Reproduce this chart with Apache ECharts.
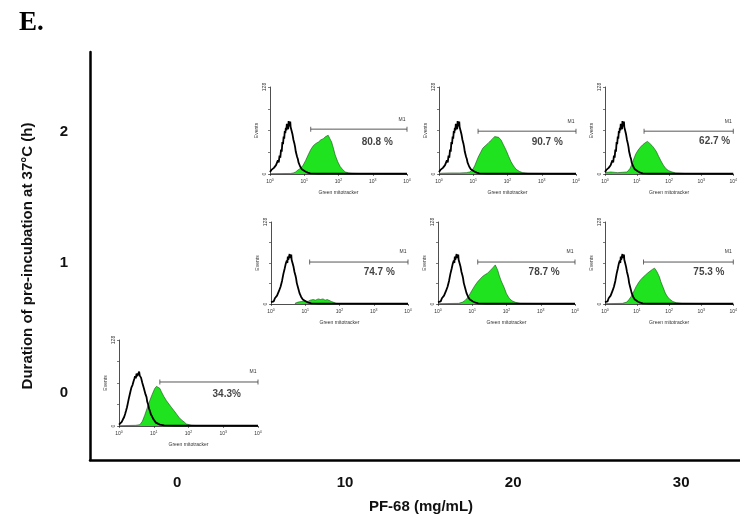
<!DOCTYPE html>
<html>
<head>
<meta charset="utf-8" />
<script src="https://cdn.jsdelivr.net/npm/echarts@6/dist/echarts.min.js"></script>
<title>pf68_facs</title>
<style>body{margin:0;background:#fff;}</style>
</head>
<body>
<div id="main" style="width:740px; height:521px;"></div>
<script type="text/javascript">
// main axes
const pf68Ticks = [0, 10, 20, 30];
const hourTicks = [0, 1, 2];

// panels, in order: (10,2) (20,2) (30,2) (10,1) (20,1) (30,1) (0,0)
const panelDose = [10, 20, 30, 10, 20, 30, 0];
const panelHours = [2, 2, 2, 1, 1, 1, 0];
const percentText = ['80.8 %', '90.7 %', '62.7 %', '74.7 %', '78.7 %', '75.3 %', '34.3%'];
const percentPos = [[1350, 47], [1445, 46], [2630, 47.5], [1445, 50], [1260, 50], [1740, 50], [1260, 47]];
const gateStart = [15.5, 13.8, 16.5, 13.5, 14.5, 16, 15];
const gateLevel = [66, 63, 63, 65.5, 65.5, 65.5, 65.5];

// unstained control histograms (fluorescence, events)
const controlRow = [[1, 3], [1.1, 6], [1.2, 4], [1.3, 9], [1.4, 7], [1.5, 13], [1.6, 11], [1.7, 20], [1.8, 17],
  [1.9, 27], [2, 24], [2.1, 36], [2.2, 33], [2.3, 47], [2.4, 44], [2.5, 55], [2.6, 52], [2.7, 63], [2.8, 60],
  [2.9, 68], [3, 64], [3.1, 74], [3.2, 69], [3.3, 71], [3.4, 66], [3.5, 78], [3.6, 72], [3.7, 75], [3.8, 70],
  [3.9, 77], [4, 69], [4.1, 71], [4.25, 64], [4.4, 66], [4.55, 58], [4.7, 57], [4.85, 50], [5, 48], [5.2, 44],
  [5.4, 40], [5.65, 33], [5.9, 31], [6.2, 25], [6.5, 22], [6.8, 17], [7.2, 15], [7.6, 11], [8, 10], [8.5, 7],
  [9, 6], [9.7, 5], [10.5, 4], [11.5, 2], [12.5, 2], [14, 1], [15, 1], [25, 0.6], [60, 0.5], [10000, 0.4]];
const controlZero = [[1, 2], [1.1, 4], [1.2, 6], [1.3, 10], [1.4, 13], [1.5, 18], [1.6, 23], [1.7, 28], [1.8, 34],
  [1.9, 40], [2, 45], [2.15, 52], [2.3, 58], [2.45, 61], [2.6, 66], [2.75, 70], [2.9, 74], [3.05, 71], [3.2, 78],
  [3.35, 74], [3.5, 76], [3.65, 72], [3.8, 81], [3.95, 75], [4.1, 77], [4.3, 72], [4.5, 70], [4.7, 64], [4.9, 66],
  [5.15, 57], [5.4, 55], [5.8, 47], [6.2, 43], [6.5, 36], [6.9, 32], [7.3, 26], [7.7, 23], [8.3, 17], [9, 14],
  [9.8, 10], [10.7, 8], [11.5, 5], [12.5, 4], [15, 2], [20, 1], [40, 0.5], [10000, 0.4]];

// mitotracker green histograms
const green_10_2 = [[1, 0.5], [4, 0.8], [4.8, 1.5], [5.6, 3], [6.6, 6], [8, 9], [9.3, 13], [11, 20], [13, 28],
  [15.5, 36], [18.6, 42], [22, 45], [26, 47], [30, 50], [36, 52], [42, 55], [50, 57], [56, 52], [63, 47],
  [71, 38], [80, 28], [95, 18], [112, 11], [135, 6], [158, 3], [200, 1.5], [250, 1], [500, 0.5], [10000, 0.3]];
const green_20_2 = [[1, 1], [2, 1.5], [4, 1.5], [6.3, 2], [8, 3], [9.7, 7], [11, 12], [14, 25], [16.5, 32], [19, 38],
  [23, 42], [27, 45], [32, 49], [37, 52], [42, 55], [47, 57], [55, 54], [65, 50], [76, 43], [91, 35], [108, 26],
  [127, 18], [150, 12], [178, 7], [220, 4], [275, 2], [400, 1], [10000, 0.3]];
const green_30_2 = [[1, 2], [1.5, 3], [2.5, 2], [3.5, 2.5], [4.9, 3], [6, 8], [7, 15], [7.6, 20], [9, 29], [10.7, 35],
  [13, 40], [15, 43], [18, 46], [21, 48], [25, 45], [29, 42], [34, 38], [40, 33], [47, 26], [56, 19], [66, 13],
  [79, 8], [95, 5], [123, 3], [160, 1.5], [300, 0.8], [10000, 0.3]];
const green_10_1 = [[5, 1], [6.2, 3], [7, 2], [8, 4], [10, 5], [12, 4], [14, 6], [17, 7], [20, 6], [24, 8], [28, 7],
  [33, 8], [38, 6], [44, 7], [50, 5], [58, 4], [66, 2], [80, 1], [100, 0.5], [10000, 0.3]];
const green_20_1 = [[1, 0.5], [4, 1], [5.3, 3], [6.3, 6], [7.4, 10], [8.6, 16], [10, 22], [12, 29], [14.5, 35],
  [17, 39], [20, 43], [24, 46], [28, 48], [33, 52], [39, 56], [44, 58], [47, 61], [52, 56], [56, 52], [61, 45],
  [70, 36], [85, 26], [100, 16], [120, 9], [145, 5], [186, 2.5], [250, 1], [10000, 0.3]];
const green_30_1 = [[1, 0.5], [3.5, 1], [4.8, 3], [5.6, 7], [6.6, 12], [7.8, 19], [9.3, 27], [11, 33], [13, 38],
  [15.5, 42], [18, 45], [21, 48], [25, 51], [30, 54], [35, 56], [40, 52], [44, 48], [50, 42], [55, 35], [65, 26],
  [76, 17], [90, 11], [107, 7], [130, 4], [166, 2], [250, 1], [10000, 0.3]];
const green_0_0 = [[1, 0.5], [3, 1], [4, 2], [4.7, 7], [5.5, 16], [6.5, 27], [7.7, 38], [9, 47], [10.7, 56], [12, 59],
  [13.4, 61], [15, 56], [16.6, 51], [19.5, 44], [23, 38], [27, 33], [32, 28], [38, 23], [45, 18], [53, 13],
  [63, 9], [75, 6], [87, 3], [105, 2], [123, 1], [200, 0.5], [10000, 0.3]];

const greenSets = [green_10_2, green_20_2, green_30_2, green_10_1, green_20_1, green_30_1, green_0_0];
const controlSets = [controlRow, controlRow, controlRow, controlRow, controlRow, controlRow, controlZero];

// where each inset sits on the page
const insetBoxes = [
  {left: 270, top: 87, width: 137, height: 87},
  {left: 439, top: 87, width: 137, height: 87},
  {left: 605, top: 87, width: 137, height: 87},
  {left: 271, top: 222, width: 137, height: 82},
  {left: 438, top: 222, width: 137, height: 82},
  {left: 605, top: 222, width: 137, height: 82},
  {left: 119, top: 340, width: 139, height: 86}
];

let myChart = echarts.init(document.getElementById('main'));

let grids = [{left: 90, top: 52, right: 0, bottom: 61}];
let xAxes = [{
    gridIndex: 0, type: 'value', min: -5.18, max: 33.5,
    axisLine: {onZero: false, lineStyle: {color: '#000', width: 2.5}},
    axisTick: {show: false}, splitLine: {show: false},
    axisLabel: {
        customValues: pf68Ticks, margin: 15,
        fontSize: 15, fontWeight: 'bold', color: '#111', fontFamily: 'Liberation Sans'
    },
    name: 'PF-68 (mg/mL)', nameLocation: 'middle', nameGap: 39,
    nameTextStyle: {fontSize: 15, fontWeight: 'bold', color: '#111', fontFamily: 'Liberation Sans', padding: [0, 0, 0, 12]}
}];
let yAxes = [{
    gridIndex: 0, type: 'value', min: -0.51, max: 2.61,
    axisLine: {onZero: false, lineStyle: {color: '#000', width: 2.5}},
    axisTick: {show: false}, splitLine: {show: false},
    axisLabel: {
        customValues: hourTicks, margin: 22,
        fontSize: 15, fontWeight: 'bold', color: '#111', fontFamily: 'Liberation Sans'
    },
    name: 'Duration of pre-incubation at 37°C (h)', nameLocation: 'middle', nameGap: 55,
    nameTextStyle: {fontSize: 15, fontWeight: 'bold', color: '#111', fontFamily: 'Liberation Sans'}
}];
let series = [{
    type: 'scatter', xAxisIndex: 0, yAxisIndex: 0, symbolSize: 0, silent: true,
    data: panelDose.map((d, i) => [d, panelHours[i]])
}];

insetBoxes.forEach(function (box, i) {
    let g = grids.length;
    grids.push(box);
    xAxes.push({
        gridIndex: g, type: 'log', logBase: 10, min: 1, max: 10000,
        axisLine: {lineStyle: {color: '#222', width: 0.8}},
        axisTick: {length: 2, lineStyle: {color: '#222', width: 0.6}},
        splitLine: {show: false},
        axisLabel: {
            margin: 4, fontSize: 5, color: '#333', showMinLabel: true, showMaxLabel: true,
            formatter: function (v) { return '10{s|' + Math.round(Math.log10(v)) + '}'; },
            rich: {s: {fontSize: 3.5, padding: [0, 0, 4, 0], color: '#333'}}
        },
        name: 'Green mitotracker', nameLocation: 'middle', nameGap: 16,
        nameTextStyle: {fontSize: 5, color: '#333'}
    });
    yAxes.push({
        gridIndex: g, type: 'value', min: 0, max: 128,
        axisLine: {show: true, lineStyle: {color: '#222', width: 0.8}},
        axisTick: {show: true, customValues: [0, 32, 64, 96, 128], length: 2, lineStyle: {color: '#222', width: 0.6}},
        splitLine: {show: false},
        axisLabel: {customValues: [0, 128], rotate: 90, margin: 3, fontSize: 5, color: '#333'},
        name: 'Events', nameLocation: 'middle', nameGap: 11,
        nameTextStyle: {fontSize: 5, color: '#333'}
    });
    series.push({
        type: 'line', xAxisIndex: g, yAxisIndex: g, data: greenSets[i],
        showSymbol: false, z: 2, silent: true,
        lineStyle: {color: '#1c4a1c', width: 0.6},
        areaStyle: {color: '#1fe31f', opacity: 1}
    });
    series.push({
        type: 'line', xAxisIndex: g, yAxisIndex: g, data: controlSets[i],
        showSymbol: false, z: 3, silent: true,
        lineStyle: {color: '#000', width: 1.8}
    });
    series.push({
        type: 'line', xAxisIndex: g, yAxisIndex: g, z: 4, silent: true,
        symbol: 'rect', symbolSize: [0.8, 5],
        itemStyle: {color: '#444'},
        lineStyle: {color: '#444', width: 0.9},
        data: [
            [gateStart[i], gateLevel[i]],
            {value: [10000, gateLevel[i]],
             label: {show: true, formatter: 'M1', position: 'top', offset: [-5, 0], fontSize: 5, color: '#333'}}
        ]
    });
    series.push({
        type: 'scatter', xAxisIndex: g, yAxisIndex: g, z: 5, silent: true,
        symbolSize: 0, itemStyle: {color: 'transparent'},
        data: [percentPos[i]],
        label: {
            show: true, position: 'inside', formatter: percentText[i],
            fontSize: 10, fontWeight: 'bold', color: '#111', fontFamily: 'Liberation Sans'
        }
    });
});

let option = {
    animation: false,
    backgroundColor: '#fff',
    graphic: [{
        type: 'text', left: 19, top: 10,
        style: {text: 'E.', font: 'bold 27px "Liberation Serif"', fill: '#000'}
    }],
    grid: grids,
    xAxis: xAxes,
    yAxis: yAxes,
    series: series
};
myChart.setOption(option);
</script>
</body>
</html>
